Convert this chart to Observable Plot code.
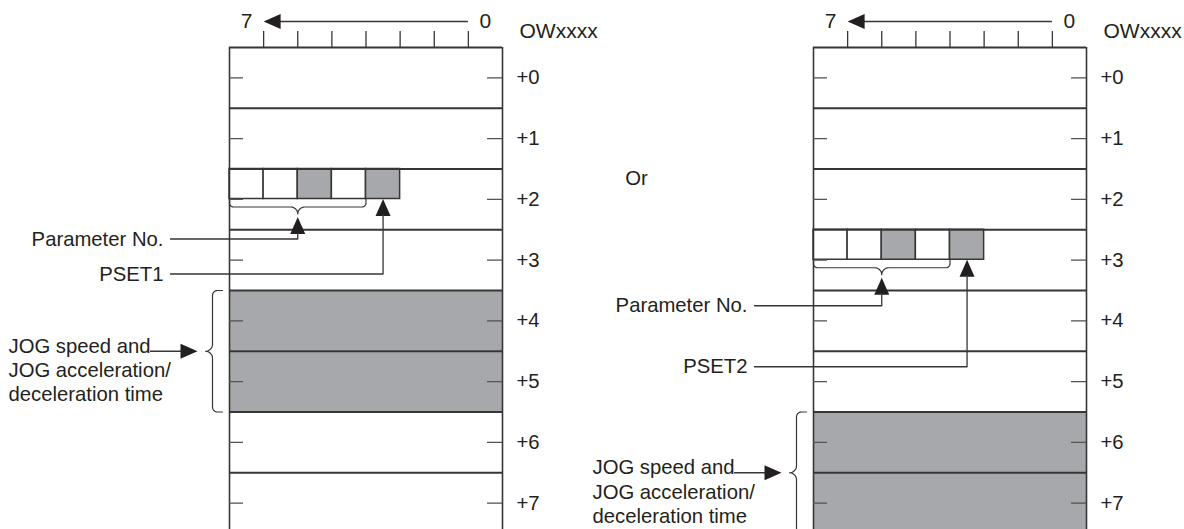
<!DOCTYPE html>
<html>
<head>
<meta charset="utf-8">
<script src="https://cdn.jsdelivr.net/npm/d3@7"></script>
<script src="https://cdn.jsdelivr.net/npm/@observablehq/plot@0.6"></script>
<style>
  html, body { margin: 0; padding: 0; background: #fff; overflow: hidden; }
  #wrap { position: relative; width: 1184px; height: 529px; overflow: hidden; }
  #wrap svg { position: absolute; top: 0; }
</style>
</head>
<body>
<div id="wrap"></div>
<script>
// ---- data ----
const bits = [7, 6, 5, 4, 3, 2, 1, 0];
const rowLabels = ["+0", "+1", "+2", "+3", "+4", "+5", "+6", "+7"];
const cellBits = [7, 6, 5, 4, 3];
const cellFilled = [0, 0, 1, 0, 1];           // 1 = shaded bit
const paramBits = [7, 6, 5, 4];
const psetBit = 3;
const psetLabels = ["PSET1", "PSET2"];
const paramRows = [2, 3];
const jogRows = [[4, 5], [6, 7]];
const headerLabel = "OWxxxx";
const bitEndLabels = ["7", "0"];
const paramLabel = "Parameter No.";
const jogLabel = "JOG speed and\nJOG acceleration/\ndeceleration time";
const orLabel = "Or";

// ---- styling / layout ----
const ink = "#231f20";
const lineCol = "#363636";
const gray = "#a7a8ab";
const W = 600, H = 529;
const xRange = [229, 502], yRange = [47, 533];
const nBits = bits.length, nRows = rowLabels.length;
const pxX = (xRange[1] - xRange[0]) / nBits;   // px per bit
const pxY = (yRange[1] - yRange[0]) / nRows;   // px per row
const L = nBits, R = 0;                         // box edges in bit units

function head(dir) {
  const len = 17, w = 7.5;
  return {draw(c) {
    c.moveTo(0, 0);
    if (dir === "up") { c.lineTo(-w, len); c.lineTo(w, len); }
    else if (dir === "left") { c.lineTo(len, -w); c.lineTo(len, w); }
    else { c.lineTo(-len, -w); c.lineTo(-len, w); }
    c.closePath();
  }};
}

function bracePts(len, depth, r1, r2) {
  const m = len / 2, pts = [[0, 0]];
  const arc = (cx, cy, r, a0, a1) => {
    for (let i = 0; i <= 8; i++) {
      const a = a0 + (a1 - a0) * i / 8;
      pts.push([cx + r * Math.cos(a), cy + r * Math.sin(a)]);
    }
  };
  arc(r1, depth - r1, r1, Math.PI, Math.PI / 2);
  arc(m - r2, depth + r2, r2, -Math.PI / 2, 0);
  arc(m + r2, depth + r2, r2, Math.PI, 1.5 * Math.PI);
  arc(len - r1, depth - r1, r1, Math.PI / 2, 0);
  pts.push([len, 0]);
  return pts;
}

function panel(i, offsetLeft) {
  const pr = paramRows[i];
  const jr = jogRows[i];
  const cellBottom = pr + 30 / pxY;
  const paramLeaderY = pr + (i === 0 ? 70 : 76) / pxY;
  const psetLeaderY = pr + (i === 0 ? 105 : 137) / pxY;
  const leaderX = L + 59 / pxX;
  const paramX = (paramBits[0] + 1 + paramBits[paramBits.length - 1]) / 2;
  const psetX = psetBit + 0.5;

  const cells = cellBits.map((b, k) => ({b, on: cellFilled[k]}));
  const rows = d3.range(nRows);

  const hb = bracePts((paramBits[0] + 1 - paramBits[paramBits.length - 1]) * pxX, 8, 4, 7)
    .map(([u, v]) => ({x: paramBits[0] + 1 - u / pxX, y: cellBottom + v / pxY}));
  const vb = bracePts(jr.length * pxY, 10, 5, 7)
    .map(([u, v]) => ({x: L + 7 / pxX + v / pxX, y: jr[0] + u / pxY}));

  const jogMid = jr[0] + jr.length / 2;

  const marks = [
    Plot.rect(jr, {x1: L, x2: R, y1: d => d, y2: d => d + 1, fill: gray}),
    Plot.rect(cells, {x1: d => d.b + 1, x2: d => d.b, y1: pr, y2: cellBottom,
      fill: d => d.on ? gray : "white", stroke: lineCol, strokeWidth: 1.5}),
    Plot.ruleY(d3.range(nRows + 1), {x1: L, x2: R, stroke: lineCol, strokeWidth: 1.9}),
    Plot.ruleX([L, R], {y1: 0, y2: nRows + 0.2, stroke: lineCol, strokeWidth: 1.6}),
    Plot.ruleY(rows, {y: d => d + 0.5, x1: L, x2: L - 14 / pxX, stroke: "#555", strokeWidth: 1.3}),
    Plot.ruleY(rows, {y: d => d + 0.5, x1: R, x2: R + 15 / pxX, stroke: "#555", strokeWidth: 1.3}),
    Plot.text(rowLabels, {x: R, y: (d, k) => k + 0.5, dx: 14, textAnchor: "start"}),
    Plot.ruleX(d3.range(1, nBits), {y1: 0, y2: -16 / pxY, stroke: lineCol, strokeWidth: 1.3}),
    Plot.ruleY([-26 / pxY], {x1: 1, x2: nBits - 1 - 15 / pxX, stroke: lineCol, strokeWidth: 1.3}),
    Plot.dot([0], {x: nBits - 1, y: -26 / pxY, symbol: head("left"), fill: ink, stroke: "none"}),
    Plot.text(bitEndLabels, {x: d => +d + 0.5, y: -26 / pxY, fontSize: 21}),
    Plot.text([headerLabel], {x: R, y: -16 / pxY, dx: 17, textAnchor: "start", fontSize: 21}),
    Plot.line(hb, {x: "x", y: "y", stroke: lineCol, strokeWidth: 1.2}),
    Plot.line(vb, {x: "x", y: "y", stroke: lineCol, strokeWidth: 1.2}),
    Plot.dot([0], {x: paramX, y: cellBottom + 18 / pxY, symbol: head("up"), fill: ink, stroke: "none"}),
    Plot.line([{x: paramX, y: cellBottom + 34 / pxY}, {x: paramX, y: paramLeaderY}, {x: leaderX, y: paramLeaderY}],
      {x: "x", y: "y", stroke: lineCol, strokeWidth: 1.3}),
    Plot.text([paramLabel], {x: L, y: paramLeaderY, dx: -66, textAnchor: "end"}),
    Plot.dot([0], {x: psetX, y: cellBottom, symbol: head("up"), fill: ink, stroke: "none"}),
    Plot.line([{x: psetX, y: cellBottom + 16 / pxY}, {x: psetX, y: psetLeaderY}, {x: leaderX, y: psetLeaderY}],
      {x: "x", y: "y", stroke: lineCol, strokeWidth: 1.3}),
    Plot.text([psetLabels[i]], {x: L, y: psetLeaderY, dx: -66, textAnchor: "end"}),
    Plot.ruleY([jogMid], {x1: L + 79 / pxX, x2: L + 46 / pxX, stroke: lineCol, strokeWidth: 1.3}),
    Plot.dot([0], {x: L + 32 / pxX, y: jogMid, symbol: head("right"), fill: ink, stroke: "none"}),
    Plot.text([jogLabel], {x: L, y: jogMid + 18 / pxY, dx: -221, textAnchor: "start", lineHeight: 1.2})
  ];
  if (i === 1) {
    marks.push(Plot.text([orLabel], {x: L, y: 2 + 9 / pxY, dx: -177}));
  }

  const svg = Plot.plot({
    width: W, height: H,
    marginTop: 0, marginBottom: 0, marginLeft: 0, marginRight: 0,
    x: {domain: [L, R], range: xRange, axis: null},
    y: {domain: [0, nRows], range: yRange, axis: null},
    style: {background: "transparent", color: ink, fontFamily: "'Liberation Sans', Arial, sans-serif", fontSize: "20.3px"},
    marks
  });
  svg.style.left = offsetLeft + "px";
  svg.style.background = "transparent";
  return svg;
}

const wrap = document.getElementById("wrap");
wrap.appendChild(panel(0, 0));
wrap.appendChild(panel(1, 584));
</script>
</body>
</html>
